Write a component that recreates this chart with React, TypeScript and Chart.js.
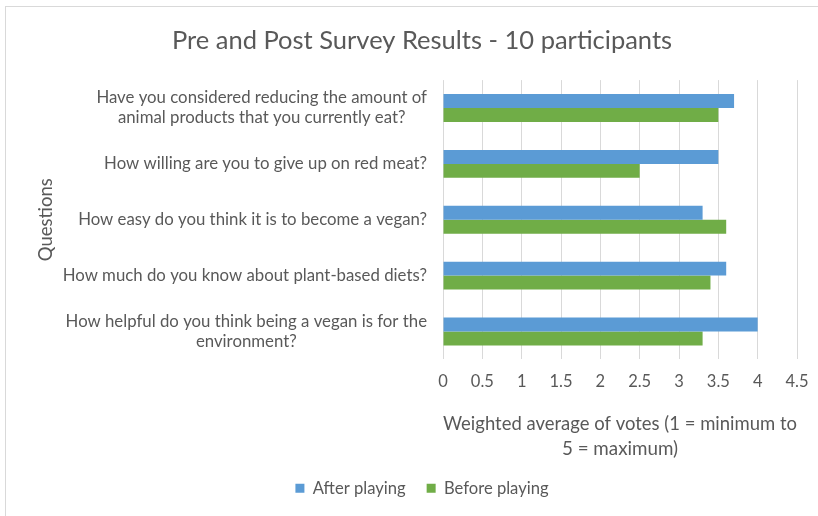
import { useEffect, useRef } from "react";
import { Chart, registerables, Plugin } from "chart.js";

Chart.register(...registerables);

const chartTitle = "Pre and Post Survey Results - 10 participants";
const questions = [
  ["Have you considered reducing the amount of", "animal products that you currently eat?"],
  ["How willing are you to give up on red meat?"],
  ["How easy do you think it is to become a vegan?"],
  ["How much do you know about plant-based diets?"],
  ["How helpful do you think being a vegan is for the", "environment?"],
];
const seriesNames = ["After playing", "Before playing"];
const afterPlaying = [3.7, 3.5, 3.3, 3.6, 4.0];
const beforePlaying = [3.5, 2.5, 3.6, 3.4, 3.3];
const xTitle = ["Weighted average of votes (1 = minimum to", "5 = maximum)"];
const yTitle = "Questions";

const FONT = "Lato, 'Open Sans', sans-serif";
const TEXT = "#595959";

// multi-line question labels: block right-aligned to the plot, lines centred inside it
const questionLabels: Plugin<"bar"> = {
  id: "questionLabels",
  afterDraw(chart) {
    const { ctx, chartArea } = chart;
    const yScale = chart.scales.y;
    ctx.save();
    ctx.font = `16.8px ${FONT}`;
    ctx.fillStyle = TEXT;
    ctx.textAlign = "center";
    ctx.textBaseline = "middle";
    questions.forEach((lines, i) => {
      const cy = yScale.getPixelForValue(i);
      const w = Math.max(...lines.map((l) => ctx.measureText(l).width));
      const cx = chartArea.left - 16 - w / 2;
      lines.forEach((line, j) => {
        ctx.fillText(line, cx, cy + (j - (lines.length - 1) / 2) * 20);
      });
    });
    ctx.restore();
  },
};

const App = () => {
  const canvasRef = useRef<HTMLCanvasElement>(null);

  useEffect(() => {
    if (!canvasRef.current) return;
    const chart = new Chart(canvasRef.current, {
      type: "bar",
      data: {
        labels: questions.map((q) => q.join(" ")),
        datasets: [
          {
            label: seriesNames[0],
            data: afterPlaying,
            backgroundColor: "#5B9BD5",
            barPercentage: 1,
            categoryPercentage: 0.5,
          },
          {
            label: seriesNames[1],
            data: beforePlaying,
            backgroundColor: "#70AD47",
            barPercentage: 1,
            categoryPercentage: 0.5,
          },
        ],
      },
      options: {
        animation: false,
        responsive: false,
        indexAxis: "y",
        layout: { padding: { left: 41, right: 37, top: 0, bottom: 18.5 } },
        plugins: {
          title: {
            display: true,
            text: chartTitle,
            color: TEXT,
            font: { family: FONT, size: 25.5, weight: "normal" },
            padding: { top: 18, bottom: 24.5 },
          },
          legend: {
            position: "bottom",
            labels: {
              boxWidth: 9,
              boxHeight: 9,
              padding: 21,
              color: TEXT,
              font: { family: FONT, size: 16.6 },
            },
          },
          tooltip: { enabled: false },
        },
        scales: {
          x: {
            min: 0,
            max: 4.5,
            ticks: {
              stepSize: 0.5,
              color: TEXT,
              padding: 12,
              font: { family: FONT, size: 16.5 },
              callback: (v) => String(v),
            },
            grid: { color: "#d9d9d9", drawTicks: false },
            border: { display: false },
            title: {
              display: true,
              text: xTitle,
              color: TEXT,
              font: { family: FONT, size: 18.8, lineHeight: 25 / 18.8 },
              padding: { top: 0, bottom: -3 },
            },
            afterFit: (s) => {
              s.height = 99.5;
            },
          },
          y: {
            ticks: { display: false },
            grid: { display: false },
            border: { display: false },
            title: {
              display: true,
              text: yTitle,
              color: TEXT,
              font: { family: FONT, size: 18.5 },
              padding: { top: -12, bottom: 0 },
            },
            afterFit: (s) => {
              s.width = 396;
            },
          },
        },
      },
      plugins: [questionLabels],
    });
    return () => chart.destroy();
  }, []);

  return (
    <div
      style={{
        position: "absolute",
        left: 0,
        top: 0,
        width: 818,
        height: 516,
        overflow: "hidden",
        background: "#fff",
      }}
    >
      <div
        style={{
          position: "absolute",
          left: 5,
          top: 6,
          width: 830,
          height: 520,
          border: "1px solid #d9d9d9",
          boxSizing: "border-box",
        }}
      >
        <canvas ref={canvasRef} width={828} height={518} style={{ display: "block" }} />
      </div>
    </div>
  );
};

export default App;
